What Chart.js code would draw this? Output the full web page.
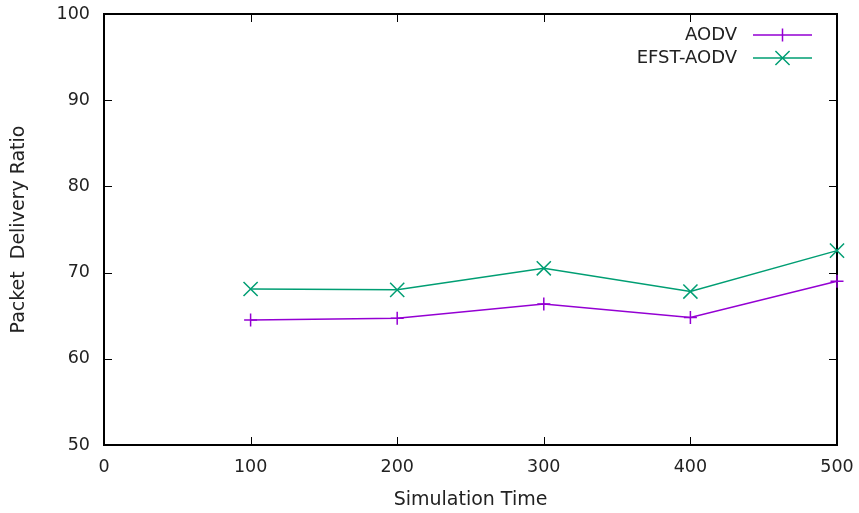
<!DOCTYPE html>
<html lang="en">
<head>
    <meta charset="UTF-8">
    <title>Packet Delivery Ratio vs Simulation Time</title>
    <script src="https://cdn.jsdelivr.net/npm/chart.js"></script>
    <style>
        html, body { margin: 0; padding: 0; background: #fff; }
        #wrap { width: 859px; height: 513px; }
    </style>
</head>
<body>
    <div id="wrap">
        <canvas id="pdrChart" width="859" height="513"></canvas>
    </div>
    <script>
        // Simulation time (s) and packet delivery ratio (%) per protocol
        const simTimes = [100, 200, 300, 400, 500];
        const aodv = [64.5, 64.7, 66.35, 64.8, 69.0];
        const efstAodv = [68.1, 68.0, 70.5, 67.8, 72.55];
        const xTicks = [0, 100, 200, 300, 400, 500];
        const yTicks = [50, 60, 70, 80, 90, 100];

        const FONT = 'DejaVu Sans';
        const TEXT = '#222';

        const toPoints = vals => simTimes.map((t, i) => ({ x: t, y: vals[i] }));

        // gnuplot-like frame with inward ticks on all four sides
        const framePlugin = {
            id: 'frame',
            beforeDatasetsDraw(chart) {
                const { ctx, chartArea: a, scales } = chart;
                const len = 8;
                ctx.save();
                ctx.strokeStyle = '#000';
                ctx.lineWidth = 1;
                ctx.beginPath();
                xTicks.slice(1, -1).forEach(v => {
                    const px = Math.round(scales.x.getPixelForValue(v)) + 0.5;
                    ctx.moveTo(px, a.bottom); ctx.lineTo(px, a.bottom - len);
                    ctx.moveTo(px, a.top); ctx.lineTo(px, a.top + len);
                });
                yTicks.slice(1, -1).forEach(v => {
                    const py = Math.round(scales.y.getPixelForValue(v)) + 0.5;
                    ctx.moveTo(a.left, py); ctx.lineTo(a.left + len, py);
                    ctx.moveTo(a.right, py); ctx.lineTo(a.right - len, py);
                });
                ctx.stroke();
                ctx.lineWidth = 2;
                ctx.strokeRect(a.left, a.top, a.right - a.left, a.bottom - a.top);
                ctx.restore();
            }
        };

        // key in the top right corner: label, then line sample with marker
        const keyPlugin = {
            id: 'key',
            afterDraw(chart) {
                const { ctx } = chart;
                const textRight = 737, lineL = 753, lineR = 812, rowY = [35, 58];
                ctx.save();
                ctx.font = '18px "' + FONT + '"';
                ctx.textAlign = 'right';
                ctx.textBaseline = 'middle';
                chart.data.datasets.forEach((ds, i) => {
                    const y = rowY[i];
                    ctx.fillStyle = TEXT;
                    ctx.fillText(ds.label, textRight, y);
                    ctx.strokeStyle = ds.borderColor;
                    ctx.lineWidth = ds.borderWidth;
                    ctx.beginPath();
                    ctx.moveTo(lineL, y); ctx.lineTo(lineR, y);
                    const cx = (lineL + lineR) / 2;
                    const r = ds.pointRadius;
                    if (ds.pointStyle === 'cross') {
                        ctx.moveTo(cx, y - r); ctx.lineTo(cx, y + r);
                        ctx.moveTo(cx - r, y); ctx.lineTo(cx + r, y);
                    } else {
                        const d = r * Math.SQRT1_2;
                        ctx.moveTo(cx - d, y - d); ctx.lineTo(cx + d, y + d);
                        ctx.moveTo(cx - d, y + d); ctx.lineTo(cx + d, y - d);
                    }
                    ctx.stroke();
                });
                ctx.restore();
            }
        };

        const ctx = document.getElementById('pdrChart').getContext('2d');
        const pdrChart = new Chart(ctx, {
            type: 'line',
            data: {
                datasets: [
                    {
                        label: 'AODV',
                        data: toPoints(aodv),
                        borderColor: '#9400d3',
                        backgroundColor: '#9400d3',
                        borderWidth: 1.5,
                        pointStyle: 'cross',
                        pointRadius: 6.5,
                        pointBorderWidth: 1.5,
                        pointBorderColor: '#9400d3',
                        tension: 0,
                        clip: false
                    },
                    {
                        label: 'EFST-AODV',
                        data: toPoints(efstAodv),
                        borderColor: '#009e73',
                        backgroundColor: '#009e73',
                        borderWidth: 1.5,
                        pointStyle: 'crossRot',
                        pointRadius: 10,
                        pointBorderWidth: 1.5,
                        pointBorderColor: '#009e73',
                        tension: 0,
                        clip: false
                    }
                ]
            },
            options: {
                responsive: false,
                animation: false,
                events: [],
                layout: { padding: { top: 14, right: 22, left: 0, bottom: 0 } },
                plugins: {
                    legend: { display: false },
                    tooltip: { enabled: false }
                },
                scales: {
                    x: {
                        type: 'linear',
                        min: 0,
                        max: 500,
                        afterFit: s => {
                            s.height = 68;
                            s.paddingLeft = 0;
                            s.paddingRight = 0;
                        },
                        afterBuildTicks: s => { s.ticks = xTicks.map(v => ({ value: v })); },
                        grid: { display: false, drawTicks: false },
                        border: { display: false },
                        ticks: {
                            padding: 12,
                            maxRotation: 0,
                            color: TEXT,
                            font: { family: FONT, size: 17.5 }
                        },
                        title: {
                            display: true,
                            text: 'Simulation Time',
                            color: TEXT,
                            font: { family: FONT, size: 19 },
                            padding: { top: 0, bottom: 2 }
                        }
                    },
                    y: {
                        min: 50,
                        max: 100,
                        afterFit: s => {
                            s.width = 104;
                            s.paddingTop = 0;
                            s.paddingBottom = 0;
                        },
                        afterBuildTicks: s => { s.ticks = yTicks.map(v => ({ value: v })); },
                        grid: { display: false, drawTicks: false },
                        border: { display: false },
                        ticks: {
                            padding: 14,
                            color: TEXT,
                            font: { family: FONT, size: 17.5 }
                        },
                        title: {
                            display: true,
                            text: 'Packet  Delivery Ratio',
                            color: TEXT,
                            font: { family: FONT, size: 19 },
                            padding: { top: 8, bottom: 0 }
                        }
                    }
                }
            },
            plugins: [framePlugin, keyPlugin]
        });
    </script>
</body>
</html>
